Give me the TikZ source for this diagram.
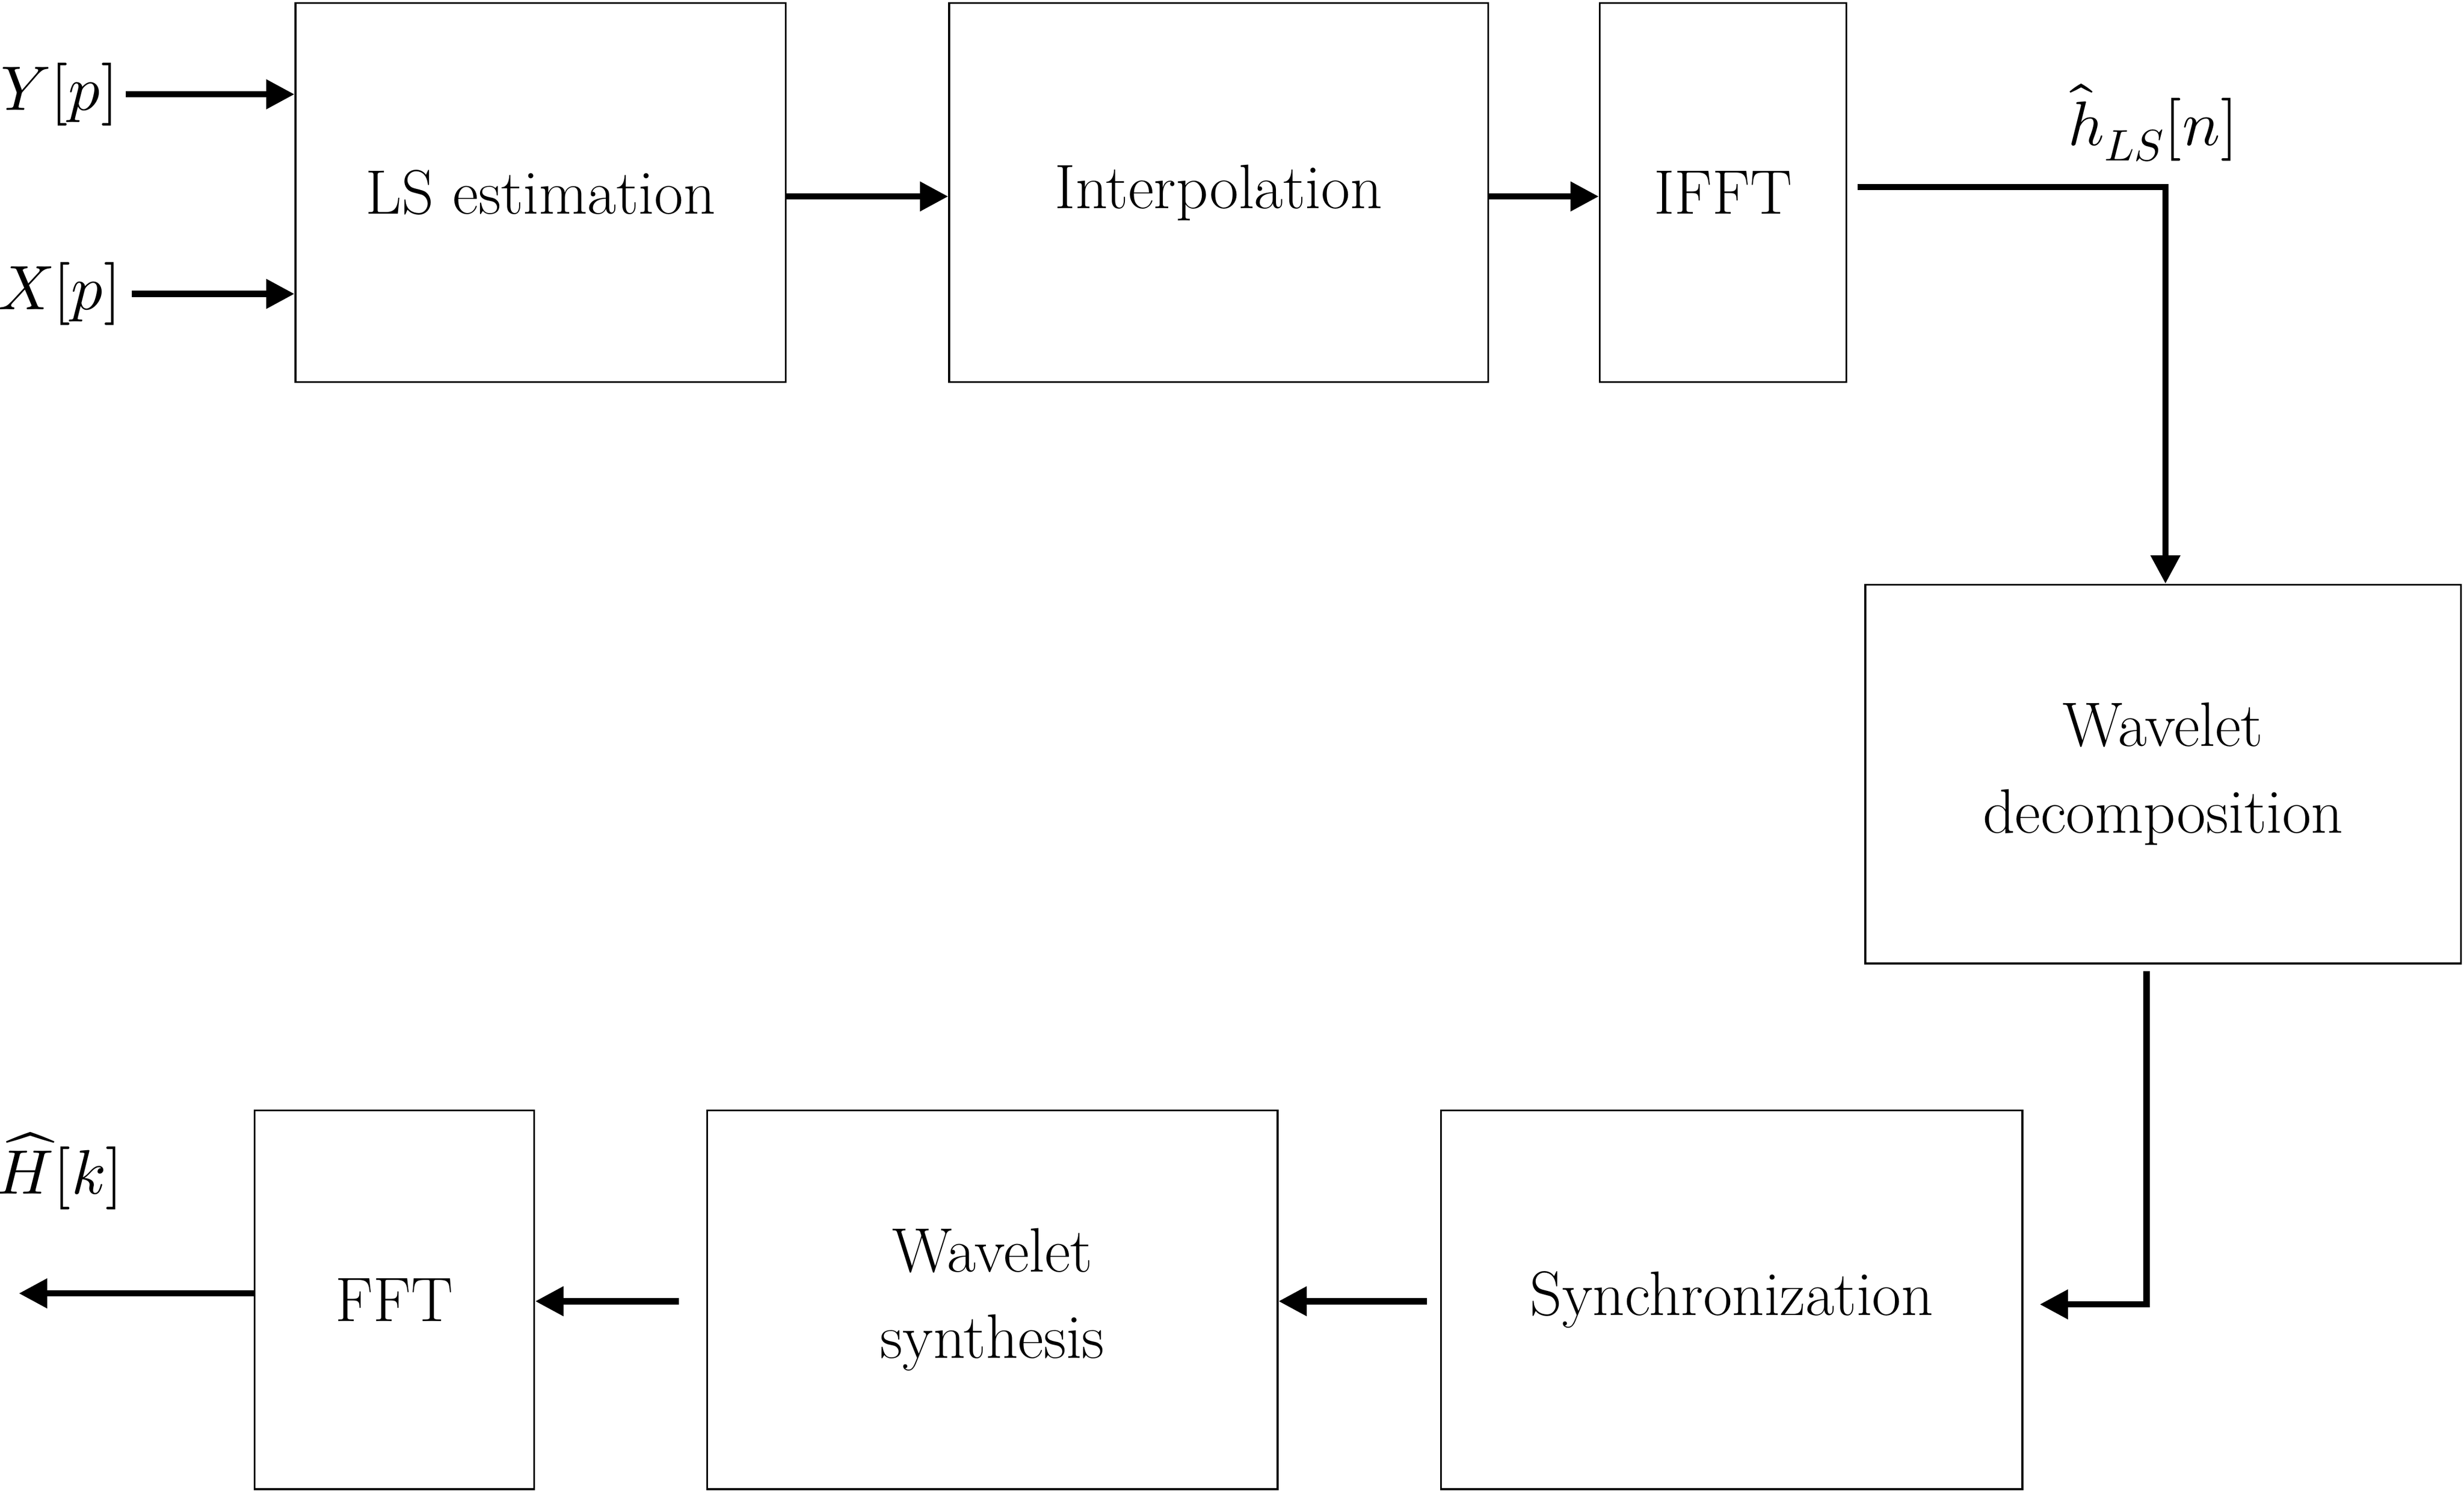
\documentclass[tikz,border=0pt]{standalone}
\usepackage{unicode-math}
\usetikzlibrary{arrows.meta}
\begin{document}
\begin{tikzpicture}[x=1pt,y=-1pt,
  blk/.style={draw,line width=1.2pt,inner sep=0pt,align=center,font=\fontsize{40}{55}\selectfont},
  arr/.style={line width=4pt,-{Triangle[length=18pt,width=18pt]}},
  lab/.style={font=\fontsize{40}{48}\selectfont}]
\useasboundingbox (0,0) rectangle (1568,950);
\node[blk,minimum width=312pt,minimum height=241pt] (ls) at (344,122.5) {LS estimation};
\node[blk,minimum width=343pt,minimum height=241pt] (ip) at (775.5,122.5) {Interpolation};
\node[blk,minimum width=157pt,minimum height=241pt] (ifft) at (1096.5,122.5) {IFFT};
\node[blk,minimum width=379pt,minimum height=241pt] (wd) at (1376.5,492.5) {Wavelet\\decomposition};
\node[blk,minimum width=370pt,minimum height=241pt] (sy) at (1102,827) {Synchronization};
\node[blk,minimum width=363pt,minimum height=241pt] (ws) at (631.5,827) {Wavelet\\synthesis};
\node[blk,minimum width=178pt,minimum height=241pt] (fft) at (251,827) {FFT};
\node[lab] (y) at (38,60) {$Y[p]$};
\node[lab] (x) at (38,187) {$X[p]$};
\node[lab] (h) at (1370,78) {$\hat{h}_{LS}[n]$};
\node[lab] (H) at (38,745) {$\widehat{H}[k]$};
\coordinate (oe) at (12,823);
\draw[arr] (80,60) -- (ls.west|-0,60);
\draw[arr] (84,187) -- (ls.west|-0,187);
\draw[arr] (ls.east|-0,125) -- (ip.west|-0,125);
\draw[arr] (ip.east|-0,125) -- (ifft.west|-0,125);
\draw[arr] (1182,119) -- (1378,119) -- (wd.north-|1378,0);
\draw[arr] (1366,618) -- (1366,830) -- (1298,830);
\draw[arr] (908,828) -- (ws.east|-0,828);
\draw[arr] (432,828) -- (fft.east|-0,828);
\draw[arr] (fft.west|-0,823) -- (oe);
\end{tikzpicture}
\end{document}
